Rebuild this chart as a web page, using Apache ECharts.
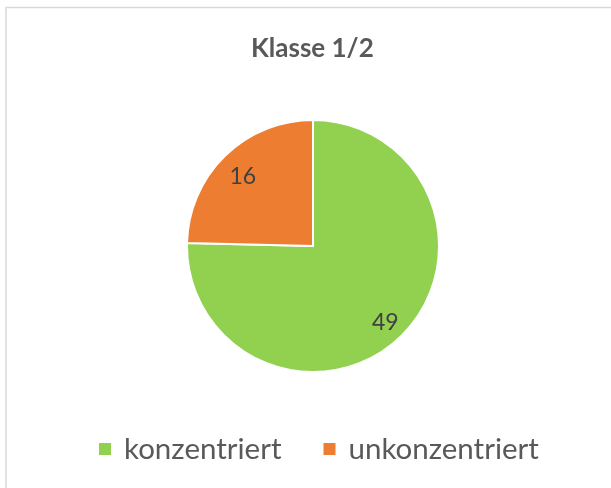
<!DOCTYPE html>
<html>
<head>
<meta charset="utf-8">
<script src="https://cdn.jsdelivr.net/npm/echarts@6/dist/echarts.min.js"></script>
<style>
  html, body { margin: 0; padding: 0; background: #fff; }
  #chart { width: 611px; height: 488px; }
</style>
</head>
<body>
<div id="chart"></div>
<script>
var categories = ['konzentriert', 'unkonzentriert'];
var values = [49, 16];
var colors = ['#92d050', '#ed7d31'];

var pieData = categories.map(function (name, i) {
  return { name: name, value: values[i], itemStyle: { color: colors[i] } };
});

var myChart = echarts.init(document.getElementById('chart'));
myChart.setOption({
  animation: false,
  title: {
    text: 'Klasse 1/2',
    left: 246,
    top: 31,
    textStyle: {
      fontFamily: 'Lato',
      fontWeight: 'bold',
      fontSize: 26,
      color: '#595959'
    }
  },
  graphic: [{
    type: 'rect',
    shape: { x: 6, y: 7.5, width: 700, height: 600 },
    style: { fill: 'none', stroke: '#d9d9d9', lineWidth: 1.5 },
    silent: true
  }],
  legend: {
    bottom: 19,
    left: 92,
    itemWidth: 14,
    itemHeight: 14,
    itemGap: 40,
    icon: 'rect',
    data: categories,
    textStyle: {
      fontFamily: 'Lato',
      fontSize: 29.5,
      color: '#595959',
      padding: [0, 0, 0, 7]
    }
  },
  series: [
    {
      type: 'pie',
      center: [313, 246],
      radius: [0, 126],
      startAngle: 90,
      clockwise: true,
      itemStyle: { borderColor: '#fff', borderWidth: 2 },
      label: { show: false },
      labelLine: { show: false },
      emphasis: { disabled: true },
      data: pieData
    },
    {
      // transparent ring used only to place the value labels further out
      type: 'pie',
      silent: true,
      center: [314, 250],
      radius: [72, 126],
      startAngle: 90,
      clockwise: true,
      itemStyle: { color: 'rgba(0,0,0,0)' },
      label: {
        show: true,
        position: 'inside',
        formatter: '{c}',
        fontFamily: 'Lato',
        fontSize: 23,
        color: '#404040'
      },
      labelLine: { show: false },
      data: categories.map(function (name, i) {
        return { name: name, value: values[i] };
      })
    }
  ]
});
</script>
</body>
</html>
